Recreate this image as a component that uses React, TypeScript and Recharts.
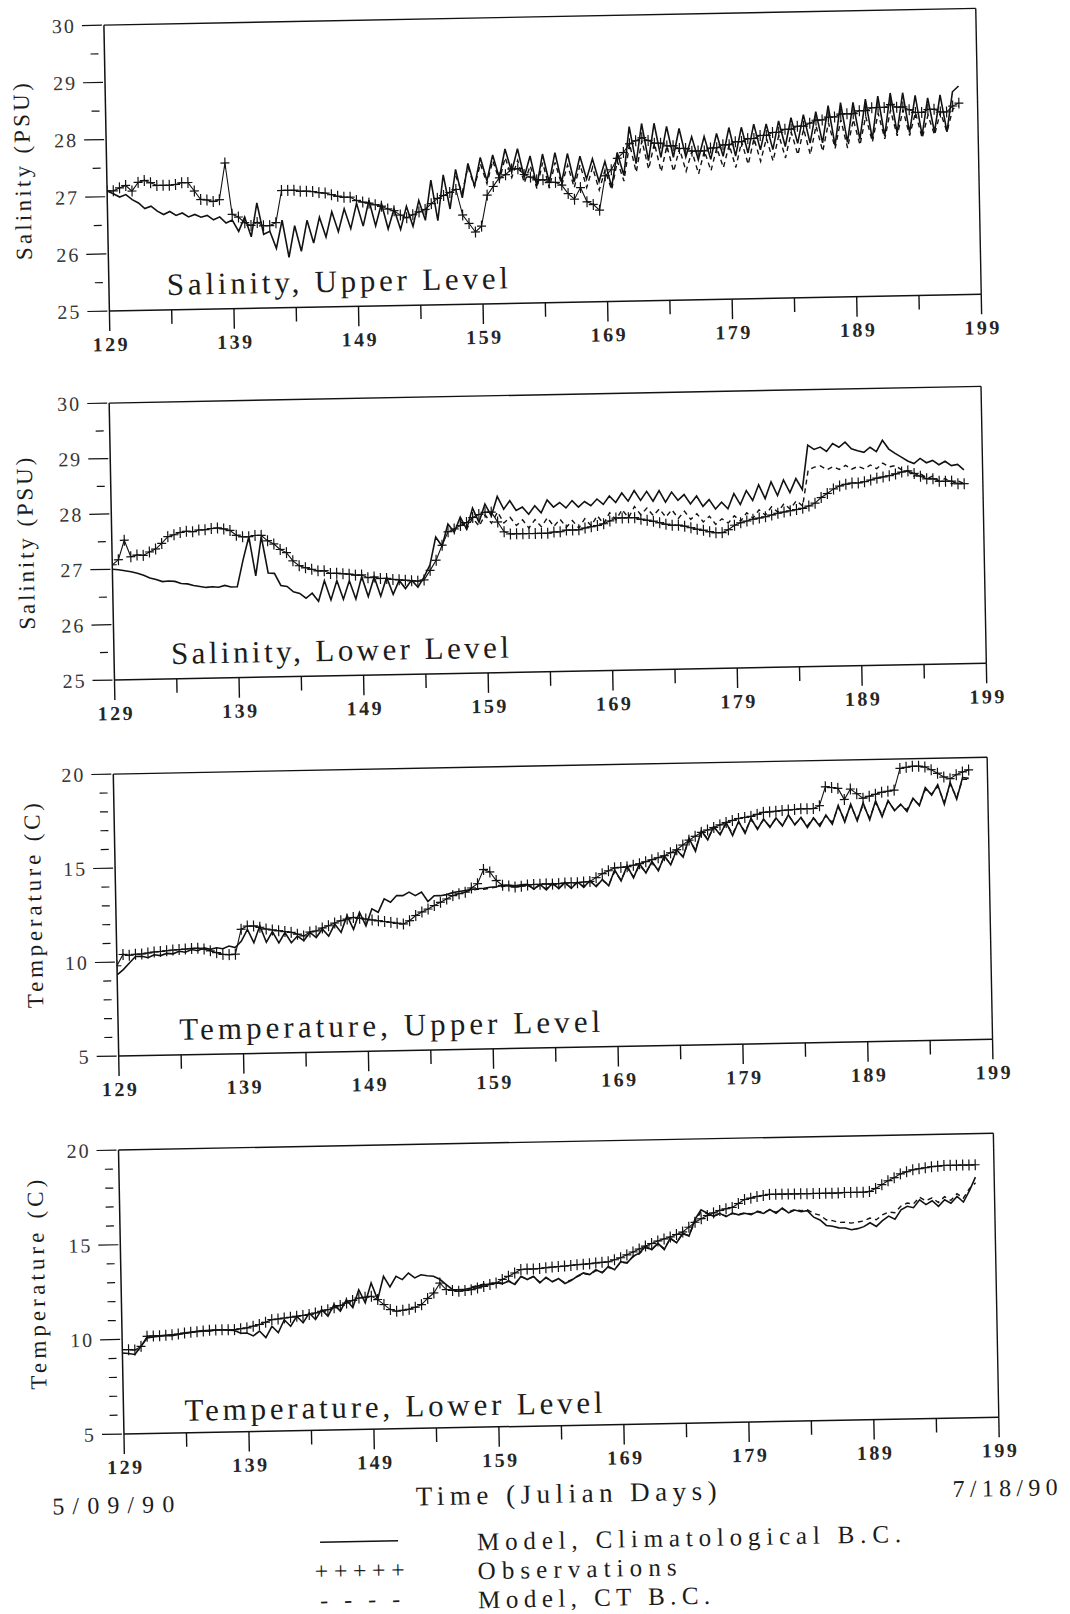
import React from 'react';
import { LineChart, Line, XAxis, YAxis, ReferenceLine } from 'recharts';

// ---------- time axis (regular half-day sampling grid) ----------
const T0 = 129;
const DT = 0.5;
const N = 138; // 129 .. 197.5
const DAYS: number[] = Array.from({ length: N }, (_, i) => T0 + DT * i);
const CT_START = 157; // CT-boundary run is shown from day 157 on

const X_TICKS = [129, 134, 139, 144, 149, 154, 159, 164, 169, 174, 179, 184, 189, 194, 199];
const X_MAJOR = [129, 139, 149, 159, 169, 179, 189, 199];
const SAL_TICKS = [25, 25.5, 26, 26.5, 27, 27.5, 28, 28.5, 29, 29.5, 30];
const SAL_LABELS = [25, 26, 27, 28, 29, 30];
const TEMP_TICKS = [5, 6, 7, 8, 9, 10, 11, 12, 13, 14, 15, 16, 17, 18, 19, 20];
const TEMP_LABELS = [5, 10, 15, 20];

// ---------- Salinity, upper level ----------
const S_UP_CLIM = [
  27.10, 27.05, 26.99, 27.03, 26.94, 26.88, 26.78, 26.82, 26.73, 26.67,
  26.72, 26.65, 26.69, 26.62, 26.66, 26.61, 26.64, 26.56, 26.61, 26.50,
  26.55, 26.35, 26.60, 26.25, 26.84, 26.29, 26.34, 26.04, 26.53, 25.88,
  26.43, 25.98, 26.52, 26.12, 26.57, 26.22, 26.66, 26.31, 26.71, 26.36,
  26.80, 26.40, 26.85, 26.40, 26.79, 26.34, 26.69, 26.33, 26.73, 26.38,
  26.83, 26.48, 27.18, 26.47, 27.27, 26.67, 27.36, 26.86, 27.46, 27.06,
  27.56, 27.15, 27.60, 27.20, 27.70, 27.30, 27.70, 27.20, 27.57, 27.04,
  27.60, 27.10, 27.62, 27.10, 27.60, 27.10, 27.55, 27.15, 27.50, 27.10,
  27.45, 27.00, 27.60, 27.20, 28.05, 27.40, 28.10, 27.45, 28.10, 27.50,
  28.04, 27.50, 28.00, 27.50, 27.85, 27.45, 27.85, 27.45, 27.90, 27.50,
  28.00, 27.50, 28.00, 27.55, 28.05, 27.60, 28.05, 27.60, 28.10, 27.65,
  28.15, 27.70, 28.20, 27.70, 28.25, 27.70, 28.35, 27.65, 28.40, 27.70,
  28.40, 27.75, 28.45, 27.75, 28.50, 27.80, 28.55, 27.85, 28.55, 27.85,
  28.50, 27.80, 28.45, 27.85, 28.50, 27.85, 28.55, 28.65,
];
const S_UP_OBS = [
  27.10, 27.10, 27.15, 27.19, 27.09, 27.24, 27.27, 27.23, 27.18, 27.18,
  27.18, 27.19, 27.22, 27.22, 27.07, 26.92, 26.91, 26.88, 26.91, 27.55,
  26.65, 26.60, 26.50, 26.45, 26.50, 26.44, 26.44, 26.49, 27.05, 27.05,
  27.05, 27.03, 27.03, 27.02, 27.00, 26.99, 26.96, 26.93, 26.91, 26.91,
  26.85, 26.82, 26.80, 26.77, 26.74, 26.69, 26.66, 26.58, 26.53, 26.58,
  26.63, 26.67, 26.77, 26.86, 26.91, 26.96, 27.01, 26.56, 26.41, 26.26,
  26.36, 26.90, 27.05, 27.20, 27.25, 27.35, 27.35, 27.25, 27.20, 27.15,
  27.15, 27.10, 27.10, 27.05, 26.90, 26.80, 27.00, 26.75, 26.70, 26.60,
  27.20, 27.30, 27.50, 27.60, 27.75, 27.80, 27.85, 27.80, 27.75, 27.75,
  27.70, 27.70, 27.65, 27.65, 27.60, 27.60, 27.60, 27.65, 27.65, 27.70,
  27.70, 27.75, 27.75, 27.80, 27.80, 27.85, 27.85, 27.90, 27.90, 27.95,
  27.95, 28.00, 28.00, 28.05, 28.10, 28.10, 28.15, 28.15, 28.20, 28.20,
  28.20, 28.25, 28.25, 28.30, 28.30, 28.30, 28.35, 28.30, 28.30, 28.25,
  28.20, 28.20, 28.25, 28.25, 28.20, 28.20, 28.30, 28.35,
];
const S_UP_CT = [
  27.25, 26.95, 27.40, 27.05,
  27.45, 27.10, 27.50, 27.15, 27.55, 27.20, 27.50, 27.10, 27.40, 27.00,
  27.45, 27.00, 27.45, 27.05, 27.40, 27.00, 27.40, 27.00, 27.35, 26.95,
  27.30, 26.95, 27.45, 27.10, 27.75, 27.25, 27.80, 27.30, 27.75, 27.25,
  27.70, 27.25, 27.65, 27.25, 27.60, 27.20, 27.60, 27.25, 27.65, 27.30,
  27.70, 27.30, 27.75, 27.35, 27.80, 27.40, 27.80, 27.40, 27.85, 27.45,
  27.90, 27.50, 27.95, 27.50, 28.00, 27.55, 28.05, 27.60, 28.10, 27.60,
  28.10, 27.65, 28.15, 27.70, 28.20, 27.75, 28.25, 27.80, 28.25, 27.80,
  28.20, 27.75, 28.15, 27.80, 28.20, 27.85, 28.25, 28.30,
];

// ---------- Salinity, lower level ----------
const S_LOW_CLIM = [
  27.00, 26.99, 26.97, 26.95, 26.92, 26.88, 26.83, 26.80, 26.76, 26.77,
  26.76, 26.72, 26.71, 26.68, 26.66, 26.64, 26.65, 26.64, 26.67, 26.64,
  26.64, 27.12, 27.54, 26.83, 27.54, 26.88, 26.87, 26.65, 26.63, 26.53,
  26.50, 26.41, 26.50, 26.35, 26.72, 26.37, 26.72, 26.38, 26.71, 26.38,
  26.78, 26.42, 26.77, 26.42, 26.76, 26.45, 26.70, 26.55, 26.70, 26.57,
  26.75, 26.97, 27.47, 27.30, 27.70, 27.55, 27.82, 27.60, 27.98, 27.72,
  28.05, 27.83, 28.18, 27.95, 28.10, 27.92, 27.98, 27.85, 28.00, 27.87,
  28.10, 27.97, 28.05, 27.95, 28.08, 27.96, 28.06, 27.98, 28.10, 28.00,
  28.15, 28.03, 28.20, 28.05, 28.24, 28.06, 28.22, 28.04, 28.23, 28.02,
  28.20, 28.05, 28.15, 27.98, 28.12, 27.93, 28.05, 27.88, 28.00, 27.88,
  28.15, 27.95, 28.20, 28.02, 28.30, 28.05, 28.35, 28.10, 28.38, 28.15,
  28.40, 28.20, 29.00, 28.92, 28.96, 28.88, 29.02, 28.95, 29.04, 28.92,
  28.88, 28.85, 28.94, 28.86, 29.06, 28.90, 28.82, 28.75, 28.68, 28.63,
  28.72, 28.64, 28.68, 28.60, 28.66, 28.58, 28.60, 28.50,
];
const S_LOW_OBS = [
  27.08, 27.17, 27.52, 27.22, 27.25, 27.24, 27.30, 27.35, 27.45, 27.57,
  27.60, 27.64, 27.66, 27.65, 27.68, 27.68, 27.70, 27.71, 27.69, 27.66,
  27.57, 27.54, 27.54, 27.56, 27.56, 27.46, 27.40, 27.30, 27.24, 27.09,
  27.00, 26.96, 26.93, 26.90, 26.90, 26.85, 26.85, 26.84, 26.83, 26.81,
  26.81, 26.76, 26.77, 26.74, 26.74, 26.72, 26.71, 26.70, 26.69, 26.68,
  26.70, 26.87, 27.05, 27.32, 27.56, 27.61, 27.67, 27.72, 27.81, 27.86,
  27.90, 27.90, 27.72, 27.54, 27.50, 27.50, 27.50, 27.50, 27.50, 27.50,
  27.50, 27.52, 27.52, 27.55, 27.55, 27.55, 27.58, 27.60, 27.62, 27.65,
  27.70, 27.75, 27.75, 27.75, 27.75, 27.72, 27.70, 27.68, 27.65, 27.62,
  27.60, 27.60, 27.58, 27.55, 27.52, 27.50, 27.47, 27.45, 27.45, 27.50,
  27.58, 27.62, 27.65, 27.68, 27.70, 27.72, 27.75, 27.78, 27.80, 27.82,
  27.84, 27.86, 27.90, 27.95, 28.05, 28.12, 28.20, 28.25, 28.28, 28.30,
  28.30, 28.32, 28.35, 28.38, 28.40, 28.42, 28.45, 28.48, 28.50, 28.45,
  28.40, 28.35, 28.35, 28.30, 28.30, 28.30, 28.25, 28.25,
];
const S_LOW_CT = [
  27.75, 27.60, 27.80, 27.65,
  27.85, 27.70, 27.90, 27.70, 27.80, 27.65, 27.75, 27.60, 27.75, 27.62,
  27.78, 27.62, 27.75, 27.60, 27.72, 27.58, 27.75, 27.62, 27.80, 27.65,
  27.85, 27.72, 27.90, 27.75, 27.95, 27.80, 27.92, 27.78, 27.90, 27.75,
  27.88, 27.72, 27.85, 27.70, 27.80, 27.65, 27.75, 27.60, 27.70, 27.62,
  27.75, 27.65, 27.80, 27.70, 27.85, 27.75, 27.90, 27.80, 27.95, 27.85,
  28.00, 27.90, 28.55, 28.60, 28.62, 28.55, 28.60, 28.55, 28.62, 28.55,
  28.60, 28.55, 28.62, 28.55, 28.65, 28.58, 28.60, 28.52, 28.50, 28.40,
  28.45, 28.35, 28.40, 28.30, 28.35, 28.25, 28.30, 28.25,
];

// ---------- Temperature, upper level ----------
const T_UP_CLIM = [
  9.32, 9.59, 9.94, 10.28, 10.28, 10.20, 10.35, 10.30, 10.41, 10.38,
  10.51, 10.45, 10.59, 10.52, 10.67, 10.58, 10.66, 10.60, 10.74, 10.65,
  10.99, 11.60, 10.89, 11.78, 10.90, 11.46, 10.85, 11.40, 10.85, 11.20,
  10.95, 11.38, 11.10, 11.55, 11.17, 11.80, 11.35, 12.23, 11.50, 12.40,
  11.67, 12.57, 12.38, 13.09, 12.90, 13.25, 13.24, 13.42, 13.23, 13.41,
  12.90, 13.20, 13.20, 13.25, 13.35, 13.40, 13.45, 13.50, 13.53, 13.55,
  13.60, 13.62, 13.68, 13.70, 13.65, 13.70, 13.72, 13.45, 13.70, 13.40,
  13.75, 13.45, 13.78, 13.45, 13.80, 13.50, 13.85, 13.52, 13.90, 13.55,
  14.40, 13.80, 14.60, 13.95, 14.70, 14.20, 14.80, 14.30, 15.10, 14.60,
  15.40, 15.00, 16.00, 15.30, 16.40, 15.90, 16.60, 16.15, 16.80, 16.10,
  16.85, 16.20, 17.00, 16.40, 16.95, 16.50, 17.00, 16.56, 17.15, 16.60,
  17.00, 16.45, 16.95, 16.50, 17.10, 16.60, 17.60, 16.70, 17.65, 16.75,
  17.70, 16.80, 17.80, 16.95, 17.80, 17.25, 17.60, 17.20, 17.90, 17.50,
  18.45, 18.05, 18.60, 17.55, 18.70, 17.80, 18.95, 18.90,
];
const T_UP_OBS = [
  9.80, 10.40, 10.35, 10.40, 10.40, 10.45, 10.50, 10.52, 10.55, 10.58,
  10.60, 10.62, 10.65, 10.65, 10.60, 10.50, 10.40, 10.30, 10.28, 10.30,
  11.62, 11.78, 11.78, 11.70, 11.60, 11.55, 11.50, 11.45, 11.40, 11.30,
  11.20, 11.40, 11.45, 11.60, 11.71, 11.85, 11.97, 12.05, 12.13, 12.08,
  12.03, 11.98, 11.93, 11.88, 11.83, 11.78, 11.73, 11.90, 12.17, 12.35,
  12.50, 12.68, 12.85, 13.02, 13.19, 13.28, 13.36, 13.58, 13.80, 14.55,
  14.41, 13.95, 13.69, 13.65, 13.58, 13.62, 13.68, 13.70, 13.70, 13.72,
  13.70, 13.72, 13.75, 13.75, 13.75, 13.78, 13.80, 14.00, 14.20, 14.35,
  14.50, 14.52, 14.55, 14.62, 14.70, 14.80, 14.90, 15.00, 15.10, 15.25,
  15.40, 15.65, 15.90, 16.10, 16.30, 16.42, 16.55, 16.68, 16.80, 16.90,
  17.00, 17.05, 17.10, 17.20, 17.30, 17.32, 17.35, 17.38, 17.40, 17.42,
  17.45, 17.45, 17.45, 17.60, 18.60, 18.55, 18.50, 17.90, 18.45, 18.20,
  17.95, 18.05, 18.15, 18.25, 18.30, 18.35, 19.50, 19.55, 19.60, 19.60,
  19.55, 19.40, 19.20, 19.00, 18.90, 19.10, 19.25, 19.35,
];
const T_UP_CT = [
  13.40, 13.45, 13.50, 13.50,
  13.55, 13.60, 13.62, 13.66, 13.62, 13.66, 13.65, 13.50, 13.65, 13.45,
  13.70, 13.50, 13.72, 13.50, 13.75, 13.55, 13.80, 13.58, 13.85, 13.60,
  14.30, 13.85, 14.50, 14.00, 14.60, 14.25, 14.75, 14.35, 15.05, 14.65,
  15.35, 15.05, 15.90, 15.40, 16.35, 15.95, 16.55, 16.20, 16.75, 16.20,
  16.80, 16.30, 16.95, 16.45, 16.90, 16.55, 16.95, 16.60, 17.10, 16.65,
  16.95, 16.55, 16.95, 16.60, 17.05, 16.70, 17.50, 16.80, 17.55, 16.85,
  17.60, 16.90, 17.70, 17.05, 17.75, 17.30, 17.55, 17.30, 17.85, 17.55,
  18.35, 18.10, 18.50, 17.65, 18.60, 17.90, 18.85, 18.85,
];

// ---------- Temperature, lower level ----------
const T_LOW_CLIM = [
  9.28, 9.25, 9.19, 9.62, 10.05, 10.10, 10.13, 10.15, 10.14, 10.20,
  10.26, 10.30, 10.35, 10.38, 10.34, 10.40, 10.41, 10.38, 10.35, 10.20,
  10.21, 10.05, 10.30, 9.95, 10.54, 10.20, 10.87, 10.52, 11.04, 10.69,
  11.20, 10.85, 11.37, 11.02, 11.62, 11.27, 11.87, 11.44, 12.38, 11.68,
  12.72, 11.84, 13.06, 12.50, 13.05, 12.87, 13.21, 12.95, 13.11, 13.05,
  13.02, 12.85, 12.56, 12.30, 12.28, 12.30, 12.36, 12.45, 12.52, 12.55,
  12.60, 12.55, 12.68, 12.50, 12.93, 12.75, 12.91, 12.56, 12.85, 12.60,
  12.77, 12.50, 12.65, 12.87, 13.04, 12.95, 13.20, 13.03, 13.36, 13.18,
  13.60, 13.52, 13.87, 14.03, 14.38, 14.20, 14.54, 14.19, 14.80, 14.53,
  15.05, 14.88, 15.75, 16.26, 16.07, 15.90, 16.05, 15.87, 16.05, 15.95,
  16.03, 15.95, 16.10, 16.00, 16.20, 16.00, 16.26, 16.00, 16.15, 16.05,
  16.10, 15.75, 15.60, 15.30, 15.25, 15.16, 15.15, 15.05, 15.10, 15.20,
  15.40, 15.20, 15.50, 15.73, 15.56, 16.05, 16.23, 16.15, 16.56, 16.30,
  16.50, 16.20, 16.54, 16.35, 16.70, 16.40, 17.00, 17.70,
];
const T_LOW_OBS = [
  9.46, 9.45, 9.43, 9.61, 10.14, 10.15, 10.15, 10.17, 10.19, 10.23,
  10.27, 10.30, 10.33, 10.36, 10.39, 10.40, 10.41, 10.40, 10.40, 10.44,
  10.48, 10.56, 10.64, 10.76, 10.89, 10.92, 10.96, 11.00, 11.04, 11.08,
  11.12, 11.20, 11.28, 11.36, 11.45, 11.57, 11.69, 11.82, 11.94, 11.98,
  12.02, 11.84, 11.57, 11.30, 11.21, 11.25, 11.30, 11.40, 11.53, 11.85,
  12.13, 12.65, 12.30, 12.25, 12.20, 12.23, 12.27, 12.35, 12.43, 12.52,
  12.60, 12.78, 12.94, 13.11, 13.28, 13.30, 13.30, 13.32, 13.35, 13.38,
  13.40, 13.42, 13.45, 13.48, 13.50, 13.52, 13.55, 13.58, 13.60, 13.70,
  13.80, 13.95, 14.10, 14.25, 14.40, 14.52, 14.65, 14.75, 14.85, 14.98,
  15.10, 15.35, 15.60, 15.78, 15.95, 16.08, 16.20, 16.28, 16.35, 16.55,
  16.75, 16.82, 16.90, 16.95, 17.00, 17.00, 17.00, 17.00, 17.00, 17.00,
  17.00, 17.00, 17.00, 17.00, 17.00, 17.00, 17.02, 17.02, 17.02, 17.02,
  17.05, 17.20, 17.40, 17.60, 17.75, 17.95, 18.05, 18.15, 18.20, 18.25,
  18.30, 18.32, 18.35, 18.35, 18.35, 18.35, 18.35, 18.35,
];
const T_LOW_CT = [
  12.40, 12.48, 12.55, 12.58,
  12.62, 12.58, 12.70, 12.55, 12.90, 12.78, 12.88, 12.60, 12.82, 12.62,
  12.75, 12.55, 12.68, 12.85, 13.00, 12.95, 13.15, 13.05, 13.30, 13.20,
  13.55, 13.55, 13.85, 14.00, 14.30, 14.22, 14.50, 14.25, 14.75, 14.55,
  15.00, 14.90, 15.65, 16.15, 16.05, 15.92, 16.02, 15.90, 16.02, 15.98,
  16.05, 15.98, 16.12, 16.05, 16.18, 16.05, 16.22, 16.05, 16.18, 16.10,
  16.15, 15.95, 15.85, 15.60, 15.55, 15.45, 15.45, 15.40, 15.45, 15.50,
  15.65, 15.55, 15.80, 15.95, 15.90, 16.25, 16.40, 16.35, 16.70, 16.50,
  16.65, 16.40, 16.70, 16.50, 16.85, 16.60, 17.10, 17.40,
];

// ---------- styling ----------
const FONT = '"Liberation Serif", "Times New Roman", serif';
const INK = '#121212';
const TXT = '#1c1c1c';
const TICK_TXT = '#262626';

const buildRows = (clim: number[], obs: number[], ct: number[]) => {
  const ctOffset = Math.round((CT_START - T0) / DT);
  return DAYS.map((d, i) => ({
    day: d,
    clim: clim[i] ?? null,
    obs: obs[i] ?? null,
    ct: i >= ctOffset ? ct[i - ctOffset] ?? null : null,
  }));
};

const XTick = (props: any) => {
  const { x, y, payload } = props;
  const v = payload?.value;
  const major = X_MAJOR.includes(v);
  return (
    <g>
      <line x1={x} y1={y} x2={x} y2={y + (major ? 20 : 14)} stroke={INK} strokeWidth={1.4} />
      {major && (
        <text
          x={x}
          y={y + 40}
          textAnchor="middle"
          fontSize={20}
          fontWeight={700}
          fontFamily={FONT}
          fill={TICK_TXT}
          textLength={35}
          lengthAdjust="spacing"
        >
          {v}
        </text>
      )}
    </g>
  );
};

const makeYTick = (labels: number[]) => (props: any) => {
  const { x, y, payload } = props;
  const v = payload?.value;
  const major = labels.includes(v);
  const s = String(v);
  return (
    <g>
      {major ? (
        <line x1={x - 22} y1={y} x2={x - 2} y2={y} stroke={INK} strokeWidth={1.2} />
      ) : (
        <line x1={x - 14} y1={y} x2={x - 6} y2={y} stroke={INK} strokeWidth={1.2} />
      )}
      {major && (
        <text
          x={x - 30}
          y={y}
          textAnchor="end"
          dominantBaseline="central"
          fontSize={20}
          fontFamily={FONT}
          fill="#363636"
          {...(s.length > 1 ? { textLength: 22, lengthAdjust: 'spacing' } : {})}
        >
          {s}
        </text>
      )}
    </g>
  );
};

const PlusDot = (props: any) => {
  const { cx, cy, value, index } = props;
  if (value == null || cx == null || cy == null || Number.isNaN(cy)) {
    return <g key={`pd-${index}`} />;
  }
  return (
    <path
      key={`pd-${index}`}
      d={`M${cx - 4.5},${cy}H${cx + 4.5}M${cx},${cy - 5.5}V${cy + 5.5}`}
      stroke={INK}
      strokeWidth={1.2}
      fill="none"
    />
  );
};

type PanelCfg = {
  L: number; R: number; T: number; B: number;
  domain: [number, number];
  ticks: number[];
  labels: number[];
  clim: number[]; obs: number[]; ct: number[];
};

const PANELS: PanelCfg[] = [
  { L: 119, R: 991, T: 17, B: 303, domain: [25, 30], ticks: SAL_TICKS, labels: SAL_LABELS, clim: S_UP_CLIM, obs: S_UP_OBS, ct: S_UP_CT },
  { L: 117, R: 989, T: 395, B: 672, domain: [25, 30], ticks: SAL_TICKS, labels: SAL_LABELS, clim: S_LOW_CLIM, obs: S_LOW_OBS, ct: S_LOW_CT },
  { L: 114, R: 988, T: 766, B: 1048, domain: [5, 20], ticks: TEMP_TICKS, labels: TEMP_LABELS, clim: T_UP_CLIM, obs: T_UP_OBS, ct: T_UP_CT },
  { L: 112, R: 987, T: 1142, B: 1426, domain: [5, 20], ticks: TEMP_TICKS, labels: TEMP_LABELS, clim: T_LOW_CLIM, obs: T_LOW_OBS, ct: T_LOW_CT },
];

const Panel = ({ cfg }: { cfg: PanelCfg }) => {
  const w = cfg.R - cfg.L + 140;
  const h = cfg.B - cfg.T + 60;
  const rows = buildRows(cfg.clim, cfg.obs, cfg.ct);
  const YTick = makeYTick(cfg.labels);
  return (
    <div style={{ position: 'absolute', left: cfg.L - 100, top: cfg.T - 10, width: w, height: h }}>
      <LineChart width={w} height={h} data={rows} margin={{ top: 10, right: 40, left: 0, bottom: 0 }}>
        <XAxis
          dataKey="day"
          type="number"
          domain={[129, 199]}
          ticks={X_TICKS}
          interval={0}
          tickSize={0}
          tickMargin={0}
          tickLine={false}
          tick={<XTick />}
          axisLine={{ stroke: INK, strokeWidth: 1.5 }}
          height={50}
          allowDataOverflow
        />
        <YAxis
          type="number"
          domain={cfg.domain}
          ticks={cfg.ticks}
          interval={0}
          tickSize={0}
          tickMargin={0}
          tickLine={false}
          tick={<YTick />}
          axisLine={{ stroke: INK, strokeWidth: 1.5 }}
          width={100}
          allowDataOverflow
        />
        <ReferenceLine y={cfg.domain[1]} stroke={INK} strokeWidth={1.4} ifOverflow="visible" />
        <ReferenceLine x={199} stroke={INK} strokeWidth={1.4} ifOverflow="visible" />
        <Line
          type="linear"
          dataKey="ct"
          stroke={INK}
          strokeWidth={1.4}
          strokeDasharray="5 4"
          dot={false}
          activeDot={false}
          isAnimationActive={false}
          connectNulls={false}
        />
        <Line
          type="linear"
          dataKey="clim"
          stroke={INK}
          strokeWidth={1.6}
          dot={false}
          activeDot={false}
          isAnimationActive={false}
          connectNulls={false}
        />
        <Line
          type="linear"
          dataKey="obs"
          stroke={INK}
          strokeWidth={1.1}
          dot={(p: any) => <PlusDot {...p} key={`pd-${p.index}`} />}
          activeDot={false}
          isAnimationActive={false}
          connectNulls={false}
        />
      </LineChart>
    </div>
  );
};

const TITLES = [
  { text: 'Salinity, Upper Level', x: 177, y: 288, len: 341 },
  { text: 'Salinity, Lower Level', x: 174, y: 657, len: 338 },
  { text: 'Temperature, Upper Level', x: 175, y: 1033, len: 421 },
  { text: 'Temperature, Lower Level', x: 173, y: 1414, len: 418 },
];
const Y_TITLES = [
  { text: 'Salinity (PSU)', x: 35, y: 162, len: 177 },
  { text: 'Salinity (PSU)', x: 31, y: 534, len: 172 },
  { text: 'Temperature (C)', x: 32, y: 896, len: 205 },
  { text: 'Temperature (C)', x: 28, y: 1275, len: 210 },
];

const Overlay = () => (
  <svg
    width={1070}
    height={1614}
    style={{ position: 'absolute', left: 0, top: 0, pointerEvents: 'none' }}
    fontFamily={FONT}
  >
    {TITLES.map((t) => (
      <text key={t.text + t.y} x={t.x} y={t.y} fontSize={31} fill={TXT} textLength={t.len} lengthAdjust="spacing">
        {t.text}
      </text>
    ))}
    {Y_TITLES.map((t) => (
      <text
        key={t.text + t.y}
        transform={`translate(${t.x},${t.y}) rotate(-90)`}
        textAnchor="middle"
        dominantBaseline="central"
        fontSize={23}
        fill={TXT}
        textLength={t.len}
        lengthAdjust="spacing"
      >
        {t.text}
      </text>
    ))}
    <text x={553} y={1503} textAnchor="middle" fontSize={27} fill={TXT} textLength={301} lengthAdjust="spacing">
      Time (Julian Days)
    </text>
    <text x={100} y={1505} textAnchor="middle" fontSize={24} fill={TXT} textLength={122} lengthAdjust="spacing">
      5/09/90
    </text>
    <text x={992} y={1505} textAnchor="middle" fontSize={24} fill={TXT} textLength={105} lengthAdjust="spacing">
      7/18/90
    </text>
    {/* legend */}
    <line x1={306} y1={1538} x2={384} y2={1538} stroke={INK} strokeWidth={1.6} />
    <text x={345} y={1567} textAnchor="middle" dominantBaseline="central" fontSize={24} fill={TXT} textLength={90} lengthAdjust="spacing">
      +++++
    </text>
    <text x={345} y={1596} textAnchor="middle" dominantBaseline="central" fontSize={24} fill={TXT} textLength={80} lengthAdjust="spacing">
      - - - -
    </text>
    <text x={463} y={1549} fontSize={25} fill={TXT} textLength={424} lengthAdjust="spacing">
      Model, Climatological B.C.
    </text>
    <text x={463} y={1578} fontSize={25} fill={TXT} textLength={199} lengthAdjust="spacing">
      Observations
    </text>
    <text x={463} y={1607} fontSize={25} fill={TXT} textLength={232} lengthAdjust="spacing">
      Model, CT B.C.
    </text>
  </svg>
);

export default function App() {
  return (
    <div
      style={{
        position: 'absolute',
        left: 0,
        top: 0,
        width: 1070,
        height: 1614,
        background: '#ffffff',
        transform: 'rotate(-1.1deg)',
        transformOrigin: '535px 807px',
        fontFamily: FONT,
      }}
    >
      {PANELS.map((cfg, i) => (
        <Panel key={i} cfg={cfg} />
      ))}
      <Overlay />
    </div>
  );
}
